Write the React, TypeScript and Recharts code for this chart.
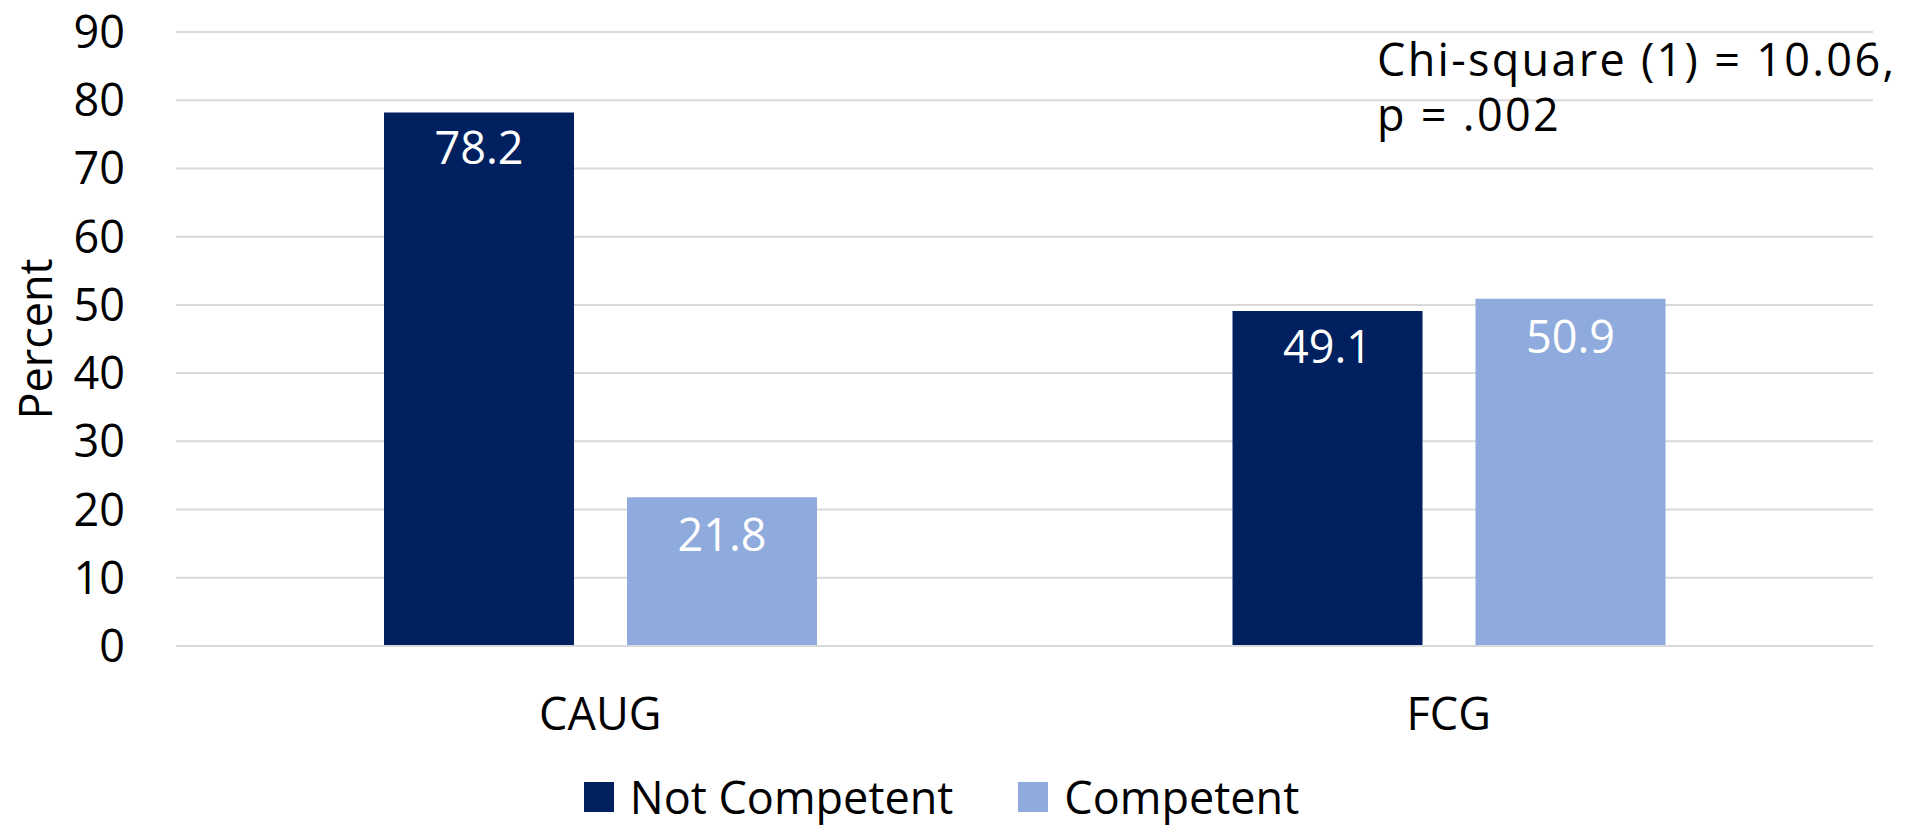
import React from 'react';
import { BarChart, Bar, XAxis, YAxis, CartesianGrid, LabelList } from 'recharts';

const categories = ['CAUG', 'FCG'];
const notCompetent = [78.2, 49.1];
const competent = [21.8, 50.9];
const yTicks = [0, 10, 20, 30, 40, 50, 60, 70, 80, 90];
const seriesNames = ['Not Competent', 'Competent'];
const seriesColors = ['#002060', '#8FAADC'];
const annotationLines = ['Chi-square (1) = 10.06,', 'p = .002'];

const data = categories.map((c, i) => ({
  category: c,
  notCompetent: notCompetent[i],
  competent: competent[i],
}));

const FONT = "'Open Sans', 'Noto Sans', sans-serif";
const tickStyle = { fill: '#000000', fontSize: 45, fontFamily: FONT };

const YLabel = (props: any) => {
  const vb = props.viewBox || { x: 0, y: 0, width: 0, height: 0 };
  const x = vb.x + 34;
  const y = vb.y + vb.height / 2;
  return (
    <text
      x={x}
      y={y}
      transform={`rotate(-90 ${x} ${y})`}
      textAnchor="middle"
      dominantBaseline="central"
      fill="#000"
      fontSize={45}
      fontFamily={FONT}
    >
      Percent
    </text>
  );
};

export default function App() {
  return (
    <div style={{ position: 'absolute', left: 0, top: 0, width: 1916, height: 826, background: '#fff', overflow: 'hidden' }}>
      <BarChart
        width={1916}
        height={826}
        data={data}
        margin={{ top: 32, right: 43, bottom: 80, left: 0 }}
        barGap={53}
        barSize={190}
      >
        <CartesianGrid vertical={false} stroke="#D9D9D9" strokeWidth={2} />
        <XAxis
          dataKey="category"
          axisLine={{ stroke: '#D9D9D9', strokeWidth: 2 }}
          tickLine={false}
          tickSize={0}
          tickMargin={52}
          height={100}
          tick={tickStyle}
        />
        <YAxis
          domain={[0, 90]}
          ticks={yTicks}
          interval={0}
          axisLine={false}
          tickLine={false}
          tickSize={0}
          tickMargin={51}
          width={176}
          tick={tickStyle}
          label={<YLabel />}
        />
        <Bar dataKey="notCompetent" name={seriesNames[0]} fill={seriesColors[0]} isAnimationActive={false}>
          <LabelList dataKey="notCompetent" position="insideTop" offset={20} fill="#ffffff" fontSize={45} fontFamily={FONT} />
        </Bar>
        <Bar dataKey="competent" name={seriesNames[1]} fill={seriesColors[1]} isAnimationActive={false}>
          <LabelList dataKey="competent" position="insideTop" offset={22} fill="#ffffff" fontSize={45} fontFamily={FONT} />
        </Bar>
      </BarChart>
      <div
        style={{
          position: 'absolute',
          left: 1377,
          top: 31,
          fontFamily: FONT,
          fontSize: 45,
          letterSpacing: '2.3px',
          lineHeight: '55px',
          color: '#000',
          whiteSpace: 'pre',
        }}
      >
        {annotationLines.map((l) => (
          <div key={l}>{l}</div>
        ))}
      </div>
      <div
        style={{
          position: 'absolute',
          left: 0,
          top: 774,
          width: 1883,
          display: 'flex',
          justifyContent: 'center',
          alignItems: 'center',
          fontFamily: FONT,
          fontSize: 45,
          lineHeight: '45px',
          color: '#000',
        }}
      >
        {seriesNames.map((n, i) => (
          <div key={n} style={{ display: 'flex', alignItems: 'center', marginLeft: i === 0 ? 0 : 65 }}>
            <div style={{ width: 30, height: 30, background: seriesColors[i], marginRight: 16 }} />
            <span>{n}</span>
          </div>
        ))}
      </div>
    </div>
  );
}
